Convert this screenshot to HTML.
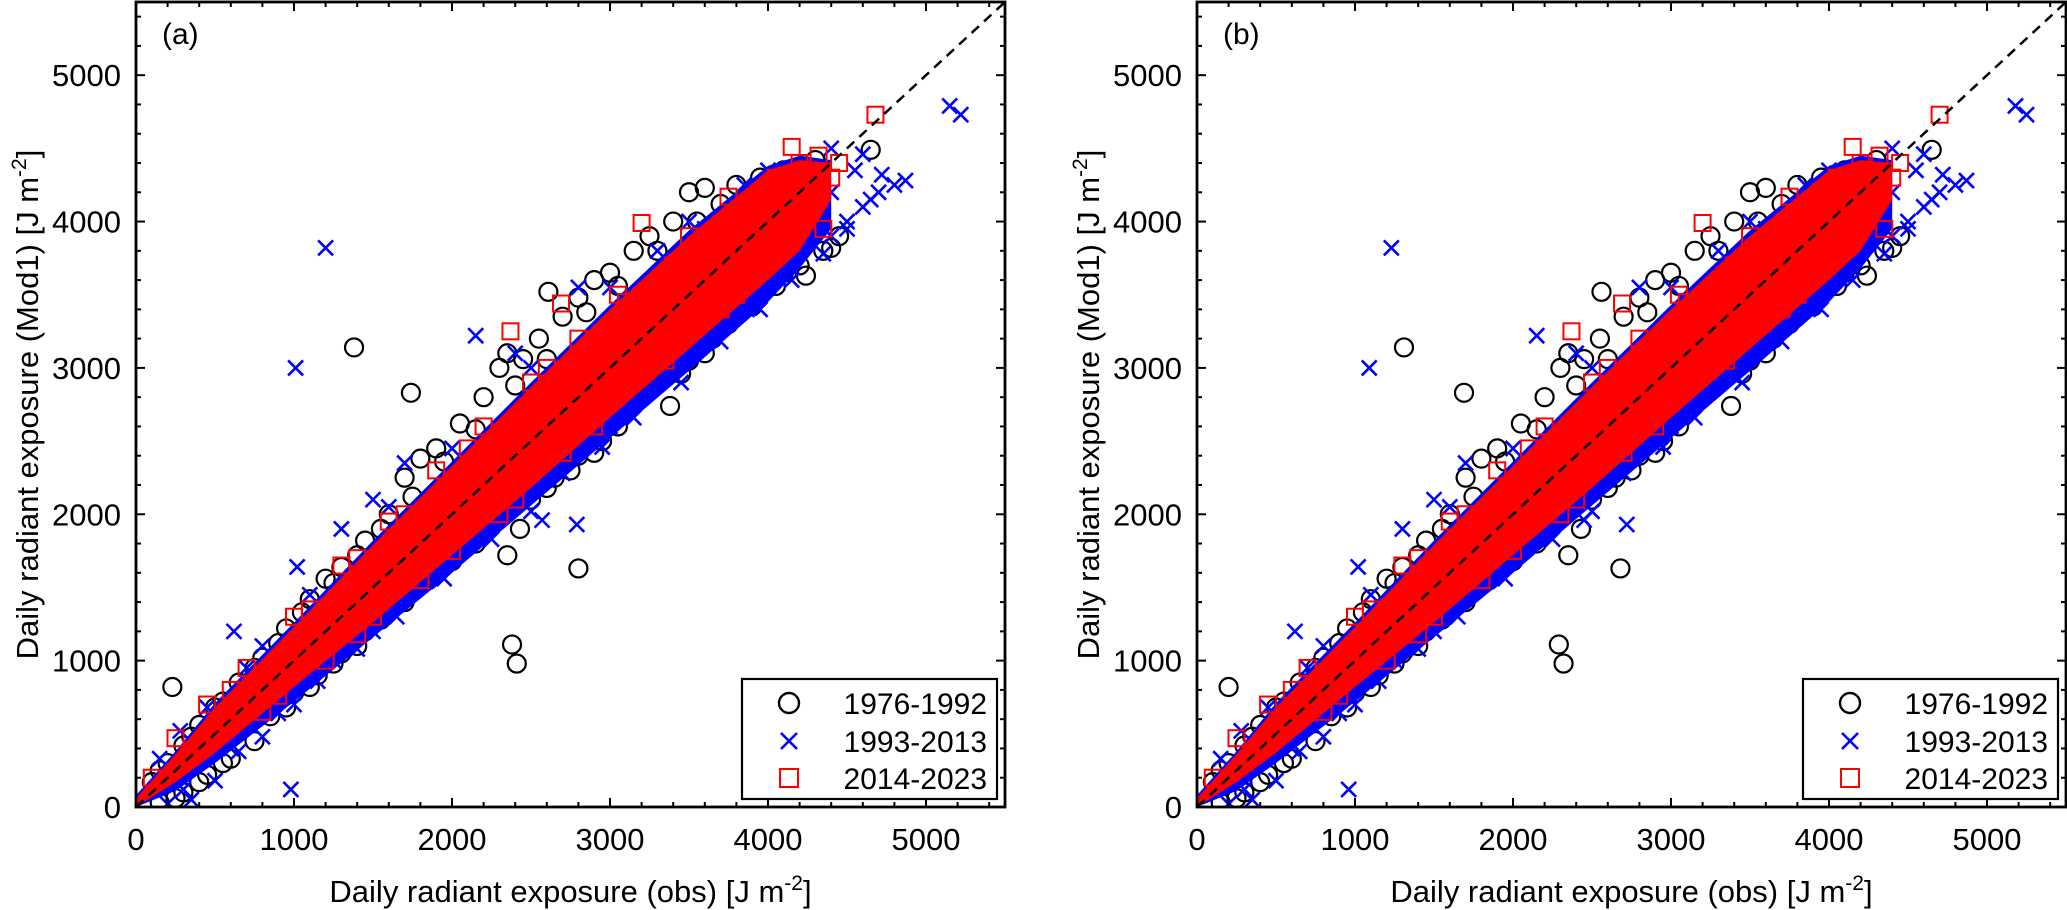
<!DOCTYPE html>
<html><head><meta charset="utf-8">
<style>
html,body{margin:0;padding:0;background:#fff;}
svg{display:block;font-family:"Liberation Sans",Arial,sans-serif;}
</style></head>
<body>
<svg id="chart" width="2067" height="910" viewBox="0 0 2067 910" xmlns="http://www.w3.org/2000/svg"></svg>
<script>
const NS = "http://www.w3.org/2000/svg";
const xTicks = [0,1000,2000,3000,4000,5000];
const yTicks = [0,1000,2000,3000,4000,5000];
const seriesNames = ["1976-1992","1993-2013","2014-2023"];
const bandX = [0,250,500,1000,1500,2000,2500,3000,3500,4000,4200,4400];
const redHi = [60,360,680,1230,1790,2330,2870,3400,3900,4350,4420,4400];
const redLo = [0,170,370,820,1260,1720,2180,2660,3130,3600,3800,4150];
const blueHi = [80,380,710,1260,1820,2360,2900,3430,3940,4380,4450,4420];
const blueLo = [0,110,300,720,1160,1600,2060,2520,2980,3450,3680,3950];
const circlesEdge = [[100,170],[200,300],[300,420],[400,560],[500,680],[650,850],[800,1020],[950,1220],[1100,1420],[1200,1560],[1300,1640],[1450,1820],[1600,2000],[1700,2250],[1800,2380],[1900,2450],[2050,2620],[2200,2800],[2300,3000],[2350,3100],[2450,3060],[2550,3200],[2700,3350],[2800,3480],[2900,3600],[3000,3650],[3150,3800],[3250,3900],[3400,4000],[3500,4200],[3600,4230],[3800,4250],[3950,4300],[4100,4350],[4300,4420],[4650,4490],
[150,30],[300,100],[450,220],[600,330],[700,560],[850,620],[1000,780],[1150,900],[1300,1050],[1450,1200],[1600,1350],[1750,1500],[1900,1600],[2050,1780],[2200,1900],[2350,1720],[2430,1900],[2500,2100],[2650,2250],[2800,2400],[2950,2500],[3100,2700],[3250,2900],[3380,2740],[3500,3050],[3650,3200],[3800,3400],[3950,3500],[4100,3650],[4240,3630],[4350,3800],[4450,3900],
[150,250],[350,480],[550,720],[750,950],[900,1120],[1050,1330],[1250,1530],[1400,1720],[1550,1900],[1750,2120],[1950,2360],[2150,2580],[2400,2880],[2600,3060],[2850,3380],[3050,3560],[3300,3800],[3550,4000],[3700,4120],[3900,4200],[4200,4330],
[250,60],[400,170],[550,300],[750,450],[950,680],[1100,820],[1250,980],[1400,1100],[1550,1280],[1700,1400],[1850,1550],[2000,1680],[2150,1800],[2300,1980],[2600,2180],[2750,2300],[2900,2420],[3050,2600],[3200,2800],[3450,2960],[3600,3100],[3750,3300],[3900,3420],[4050,3560],[4200,3700],[4400,3820]];
const circlesOutA = [[230,820],[1380,3140],[1740,2830],[2610,3520],[2800,1630],[2380,1110],[2410,980]];
const circlesOutB = [[200,820],[1310,3140],[1690,2830],[2560,3520],[2680,1630],[2290,1110],[2320,980]];
const crossesEdge = [[150,330],[280,520],[450,680],[620,1200],[800,1100],[1020,1640],[1300,1900],[1500,2100],[1700,2350],[2150,3220],[2400,3100],[2800,3550],[3300,3800],[3600,3950],[3850,4250],[4100,4300],[4400,4500],[4600,4460],
[200,20],[350,50],[500,180],[650,380],[800,480],[1000,700],[1250,1000],[1500,1200],[1800,1550],[2100,1800],[3000,2600],[3300,2900],[3600,3200],[3800,3420],[4000,3550],[4200,3800],[4400,3900],[4500,3950],[4600,4100],[4700,4200],[4870,4280],[4720,4320],[4550,4350],[4400,4200],[4300,4150],
[300,120],[600,400],[900,640],[1150,860],[1400,1080],[1650,1300],[1950,1560],[2250,1830],[2500,2020],[2700,2280],[2950,2460],[3150,2660],[3450,2900],[3700,3180],[3950,3400],[4150,3600],[4350,3780],[4500,4000],[4650,4150],[4800,4250],
[700,950],[1100,1450],[1600,2050],[2000,2450],[2500,3000],[3000,3550],[3500,4000],[4000,4350]];
const crossesOutA = [[1200,3820],[1010,3000],[980,120],[5150,4790],[5220,4730],[2570,1960],[2790,1930]];
const crossesOutB = [[1230,3820],[1090,3000],[960,120],[5180,4790],[5250,4730],[2450,1960],[2720,1930]];
const squaresPts = [[4150,4510],[2370,3250],[2690,3440],[3200,3990],[4320,4450],[3750,4170],[3950,4200],[4200,4400],[4400,4300],[4350,3950],[3900,3800],[3600,3400],[3300,3150],[3400,3700],[3050,3500],[2800,3200],[2500,2900],[2200,2600],[1900,2300],[1600,1950],[1300,1650],[1000,1300],[700,950],[450,700],[250,470],[100,200],[2400,2100],[2900,2600],[2000,1750],[1500,1300],[1200,1000],[800,650],[3800,3500],
[3100,3450],[3500,3900],[2600,3000],[2100,2450],[1700,2000],[1400,1700],[1100,1350],[600,800],[4050,4300],[4250,4100],[3700,3400],[3350,3050],[2700,2420],[2300,2000],[1800,1550],[1400,1180],[900,760],[4450,4400]];
const squaresOutA = [[4680,4730]];
const squaresOutB = [[4700,4730]];

const svg = document.getElementById("chart");
function mk(tag, attrs, parent){const e=document.createElementNS(NS,tag);for(const k in attrs)e.setAttribute(k,attrs[k]);(parent||svg).appendChild(e);return e;}

function drawPanel(left, label, cOut, xOut, sOut, pname){
  const W=869, top=2, bottom=807, right=left+W, max=5500;
  const sx=v=>left+v/max*W, sy=v=>bottom-v/max*(bottom-top);
  const g=mk("g",{});
  
  
  const clipId="clip"+pname;
  const cp=mk("clipPath",{id:clipId},g); mk("rect",{x:left,y:top,width:W,height:bottom-top},cp);
  const plot=mk("g",{"clip-path":"url(#"+clipId+")"},g);
  const circles=cOut.concat(circlesEdge);
  circles.forEach(p=>{const c=mk("circle",{cx:sx(p[0]),cy:sy(p[1]),r:9,fill:"none",stroke:"#000","stroke-width":2.2},plot);
     });
  let pts=bandX.map((x,i)=>sx(x)+","+sy(blueHi[i])).concat(bandX.map((x,i)=>sx(x)+","+sy(blueLo[i])).reverse());
  const bp=mk("polygon",{points:pts.join(" "),fill:"#0000ff"},plot);
   
  xOut.concat(crossesEdge).forEach(p=>{const x=sx(p[0]),y=sy(p[1]),d=7.5;
    const pa=mk("path",{d:`M${x-d},${y-d}L${x+d},${y+d}M${x-d},${y+d}L${x+d},${y-d}`,stroke:"#0000ff","stroke-width":2.6,fill:"none"},plot);
     });
  pts=bandX.map((x,i)=>sx(x)+","+sy(redHi[i])).concat(bandX.map((x,i)=>sx(x)+","+sy(redLo[i])).reverse());
  const rp=mk("polygon",{points:pts.join(" "),fill:"#ff0000"},plot);
   
  sOut.concat(squaresPts).forEach(p=>{const s=mk("rect",{x:sx(p[0])-8,y:sy(p[1])-8,width:16,height:16,fill:"none",stroke:"#ff0000","stroke-width":2},plot);
     });
  const dl=mk("line",{x1:sx(0),y1:sy(0),x2:sx(max),y2:sy(max),stroke:"#000","stroke-width":2.5,"stroke-dasharray":"10,7"},plot);
   
  for(let v=0;v<=max;v+=200){
    const major=v%1000===0, L=major?9:5;
    mk("line",{x1:sx(v),y1:bottom,x2:sx(v),y2:bottom-L,stroke:"#000","stroke-width":2},g);
    mk("line",{x1:sx(v),y1:top,x2:sx(v),y2:top+L,stroke:"#000","stroke-width":2},g);
    mk("line",{x1:left,y1:sy(v),x2:left+L,y2:sy(v),stroke:"#000","stroke-width":2},g);
    mk("line",{x1:right,y1:sy(v),x2:right-L,y2:sy(v),stroke:"#000","stroke-width":2},g);
  }
  xTicks.forEach(v=>{const t=mk("text",{x:sx(v),y:bottom+43,"font-size":31,"text-anchor":"middle"},g);t.textContent=v;
     });
  yTicks.forEach(v=>{const t=mk("text",{x:left-15,y:sy(v)+11,"font-size":31,"text-anchor":"end"},g);t.textContent=v;
     });
  const fr=mk("rect",{x:left,y:top,width:W,height:bottom-top,fill:"none",stroke:"#000","stroke-width":2.8},g);
   
  const lb=mk("text",{x:left+26,y:44,"font-size":30},g); lb.textContent=label;
   
  const xt=mk("text",{x:left+W/2,y:902,"font-size":31,"text-anchor":"middle"},g);
  xt.innerHTML='Daily radiant exposure (obs) [J m<tspan dy="-12" font-size="21">-2</tspan><tspan dy="12">]</tspan>';
   
  const yt=mk("text",{x:0,y:0,"font-size":31,"text-anchor":"middle",transform:`translate(${left-98},${(top+bottom)/2}) rotate(-90)`},g);
  yt.innerHTML='Daily radiant exposure (Mod1) [J m<tspan dy="-12" font-size="21">-2</tspan><tspan dy="12">]</tspan>';
   
  const lg=mk("g",{},g);
   
  mk("rect",{x:left+606,y:679,width:255,height:120,fill:"#fff",stroke:"#000","stroke-width":2.2},lg);
  const mx=left+653, ys=[703,741,778];
  mk("circle",{cx:mx,cy:ys[0],r:10,fill:"none",stroke:"#000","stroke-width":2.4},lg);
  mk("path",{d:`M${mx-8},${ys[1]-8}L${mx+8},${ys[1]+8}M${mx-8},${ys[1]+8}L${mx+8},${ys[1]-8}`,stroke:"#0000ff","stroke-width":2.6},lg);
  mk("rect",{x:mx-9,y:ys[2]-9,width:18,height:18,fill:"none",stroke:"#ff0000","stroke-width":2},lg);
  seriesNames.forEach((n,i)=>{const t=mk("text",{x:left+851,y:ys[i]+11,"font-size":30,"text-anchor":"end"},lg);t.textContent=n;
     });
}
drawPanel(136,"(a)",circlesOutA,crossesOutA,squaresOutA,"panel-a");
drawPanel(1197,"(b)",circlesOutB,crossesOutB,squaresOutB,"panel-b");
</script>
</body></html>
